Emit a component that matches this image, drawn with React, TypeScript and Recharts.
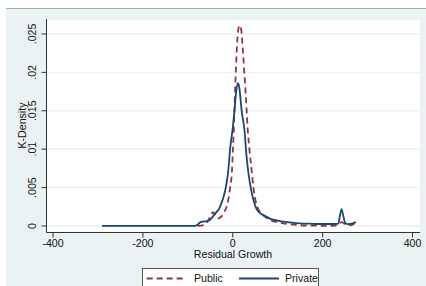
import React from "react";
import { LineChart, Line, XAxis, YAxis, CartesianGrid } from "recharts";

const publicX = [-78, -65, -58, -50, -44, -38, -32, -26, -20, -15, -10, -6, -2, 0, 1.5, 3.6, 6.6, 10, 13, 16.2, 19, 22, 25.8, 31, 33, 37, 42, 46, 51, 56, 64, 72, 86, 100, 112, 130, 150, 175, 200, 225, 237, 242, 248, 253, 262, 274];
const publicY = [0, 0.0001, 0.0004, 0.0012, 0.0018, 0.0013, 0.001, 0.0012, 0.0017, 0.0023, 0.0034, 0.005, 0.007, 0.0095, 0.0115, 0.0149, 0.0199, 0.024, 0.0258, 0.0261, 0.0255, 0.0232, 0.0199, 0.0149, 0.0128, 0.01, 0.0072, 0.005, 0.0032, 0.0023, 0.0016, 0.0012, 0.0007, 0.0005, 0.00035, 0.0002, 0.0001, 0.00005, 0.00003, 0.00002, 0.0003, 0.0005, 0.0003, 0.0001, 0.0001, 0.0005];

const privateX = [-291, -200, -120, -85, -78, -70, -60, -50, -42, -35, -30, -25, -20, -15.6, -10, -6, 0, 3.6, 7, 11, 14, 20, 26, 30, 35, 40, 45, 53, 60, 72, 85, 100, 112, 130, 150, 170, 190, 228, 235, 238, 242, 246, 250, 255, 265, 274];
const privateY = [0, 0, 0, 0, 0.0002, 0.00055, 0.0006, 0.00085, 0.0014, 0.0019, 0.0023, 0.003, 0.0039, 0.005, 0.0072, 0.01, 0.0128, 0.0149, 0.0172, 0.0186, 0.0182, 0.0149, 0.0125, 0.0095, 0.0068, 0.005, 0.0036, 0.0022, 0.0017, 0.0013, 0.0009, 0.0007, 0.00056, 0.00045, 0.00035, 0.0003, 0.00026, 0.00026, 0.0003, 0.0012, 0.0022, 0.0013, 0.0004, 0.00025, 0.0003, 0.0005];

const xTicks = [-400, -200, 0, 200, 400];
const yTicks = [0, 0.005, 0.01, 0.015, 0.02, 0.025];
const seriesNames = ["Public", "Private"];
const xTitle = "Residual Growth";
const yTitle = "K-Density";

const publicData = publicX.map((x, i) => ({ x, y: publicY[i] }));
const privateData = privateX.map((x, i) => ({ x, y: privateY[i] }));

const FONT = "'Liberation Sans', Arial, sans-serif";
const RED = "#90353b";
const NAVY = "#1a476f";
const BG = "#eaf2f3";

const fmtY = (v: number) => (v === 0 ? "0" : String(v).replace(/^0/, ""));

const YTick = (props: any) => {
  const { x, y, payload } = props;
  const bx = x - 3.5;
  return (
    <text
      x={bx}
      y={y}
      transform={`rotate(-90, ${bx}, ${y})`}
      textAnchor="middle"
      fontSize={10.6}
      fontFamily={FONT}
      fill="#111"
    >
      {fmtY(payload.value)}
    </text>
  );
};

export default function App() {
  return (
    <div style={{ position: "absolute", left: 0, top: 0, width: 426, height: 286, overflow: "hidden", background: "#fff" }}>
      <div style={{ position: "absolute", left: 6, top: 8, width: 420, height: 278, background: BG, borderTop: "1px solid #a3abad", boxSizing: "border-box" }} />
      <div style={{ position: "absolute", left: 0, top: 0 }}>
        <LineChart width={426} height={286} margin={{ top: 19, right: 6, bottom: 23.5, left: 0 }}>
          <CartesianGrid vertical={false} horizontal stroke={BG} strokeWidth={1.5} fill="#fff" fillOpacity={1} />
          <XAxis
            type="number"
            dataKey="x"
            domain={[-414.6, 416.7]}
            ticks={xTicks}
            allowDataOverflow
            height={30}
            tickSize={5}
            stroke="#333"
            tick={{ fontSize: 10.6, fontFamily: FONT, fill: "#111" }}
          />
          <YAxis
            type="number"
            dataKey="y"
            domain={[-0.00085, 0.02695]}
            ticks={yTicks}
            allowDataOverflow
            width={46.5}
            tickSize={5}
            stroke="#333"
            tick={<YTick />}
          />
          <Line data={publicData} dataKey="y" name={seriesNames[0]} type="monotone" stroke={RED} strokeWidth={1.8} strokeDasharray="6 4" dot={false} activeDot={false} isAnimationActive={false} />
          <Line data={privateData} dataKey="y" name={seriesNames[1]} type="monotone" stroke={NAVY} strokeWidth={1.8} dot={false} activeDot={false} isAnimationActive={false} />
        </LineChart>
      </div>
      <svg width={426} height={286} style={{ position: "absolute", left: 0, top: 0, pointerEvents: "none" }}>
        <text x={25.5} y={125.5} transform="rotate(-90, 25.5, 125.5)" textAnchor="middle" fontSize={10.6} fontFamily={FONT} fill="#111">{yTitle}</text>
        <text x={233} y={258} textAnchor="middle" fontSize={10.6} fontFamily={FONT} fill="#111">{xTitle}</text>
        <rect x={142.5} y={268.5} width={176} height={24} fill="#fff" stroke="#555" strokeWidth={1} />
        <line x1={146.7} y1={278.5} x2={186.7} y2={278.5} stroke={RED} strokeWidth={1.8} strokeDasharray="6 4" />
        <text x={194} y={282} fontSize={10.6} fontFamily={FONT} fill="#111">{seriesNames[0]}</text>
        <line x1={239} y1={278.5} x2={279} y2={278.5} stroke={NAVY} strokeWidth={1.8} />
        <text x={285} y={282} fontSize={10.6} fontFamily={FONT} fill="#111">{seriesNames[1]}</text>
      </svg>
    </div>
  );
}
